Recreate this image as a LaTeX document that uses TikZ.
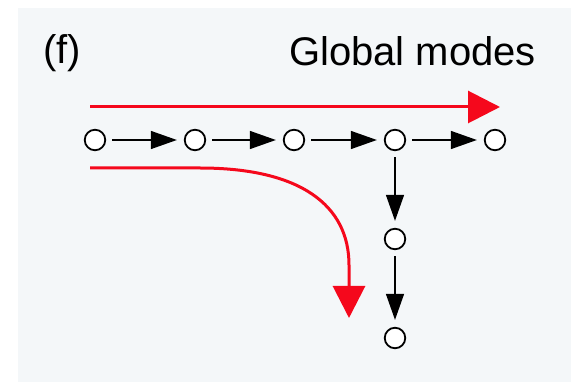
\documentclass[tikz,border=0pt]{standalone}
\usepackage{fontspec}
\setmainfont{Liberation Sans}
\usetikzlibrary{arrows.meta}
\definecolor{panel}{RGB}{244,247,249}
\definecolor{flowred}{RGB}{245,8,28}
\begin{document}
\begin{tikzpicture}[x=1pt,y=-1pt,
  site/.style={circle,draw=black,fill=white,line width=1.8pt,minimum size=20.5pt,inner sep=0pt},
  hop/.style={line width=1.4pt,-{Triangle[length=26pt,width=18pt]},shorten <=6pt,shorten >=7pt},
  flow/.style={draw=flowred,line width=3pt,-{Triangle[length=32pt,width=32pt]}},
  label/.style={font=\fontsize{40}{44}\selectfont,inner sep=0pt}]
  % canvas and panel
  \useasboundingbox (0,0) rectangle (571,382);
  \fill[white] (0,0) rectangle (571,382);
  \fill[panel] (18,8) rectangle (575,386);
  % labels
  \node[label,anchor=base west] (tag) at (43,64) {(f)};
  \node[label,anchor=base east] (title) at (536,66) {Global modes};
  % sites along the chain
  \node[site] (n1) at (95,140) {};
  \node[site] (n2) at (195,140) {};
  \node[site] (n3) at (294,140) {};
  \node[site] (n4) at (395,140) {};
  \node[site] (n5) at (495,140) {};
  \node[site] (v1) at (395,239) {};
  \node[site] (v2) at (395,338) {};
  % hopping links
  \draw[hop] (n1) -- (n2);
  \draw[hop] (n2) -- (n3);
  \draw[hop] (n3) -- (n4);
  \draw[hop] (n4) -- (n5);
  \draw[hop] (n4) -- (v1);
  \draw[hop] (v1) -- (v2);
  % propagation paths
  \coordinate (a0) at (90,107);
  \coordinate (a1) at (500,107);
  \draw[flow] (a0) -- (a1);
  \coordinate (b0) at (90,168);
  \coordinate (b1) at (200,168);
  \coordinate (b2) at (349,265);
  \coordinate (b3) at (349,318);
  \draw[flow] (b0) -- (b1) .. controls (300,168) and (349,205) .. (b2) -- (b3);
\end{tikzpicture}
\end{document}
